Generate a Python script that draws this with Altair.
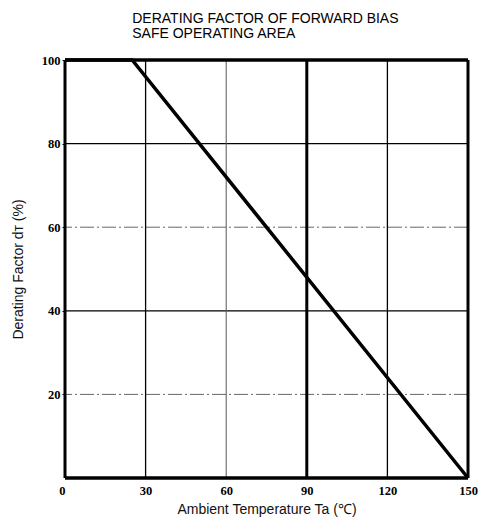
import altair as alt
import pandas as pd

# Data
temp = [0, 25, 150]
factor = [100, 100, 0]
x_ticks = [0, 30, 60, 90, 120, 150]
y_ticks = [20, 40, 60, 80, 100]
x_grid_thin = [30, 120]
x_grid_gray = [60]
x_grid_thick = [90]
y_grid_solid = [80, 40]
y_grid_dash = [60, 20]
x_frame = [0, 150]
y_frame = [0, 100]

curve = pd.DataFrame({"Ta": temp, "dT": factor})

xs = alt.Scale(domain=[0, 150], nice=False, zero=False)
ys = alt.Scale(domain=[0, 100], nice=False, zero=False)

lab_font = "Liberation Serif"

x_axis = alt.Axis(values=x_ticks, grid=False, domain=False, ticks=False,
                  labelFont=lab_font, labelFontWeight="bold", labelFontSize=12.5,
                  labelColor="black", labelPadding=6,
                  labelAlign={"expr": "datum.value == 0 ? 'right' : 'center'"},
                  title="Ambient Temperature  Ta (℃)", titleFont="Liberation Sans",
                  titleFontWeight="normal", titleFontSize=14, titleColor="#111",
                  titlePadding=6)
y_axis = alt.Axis(values=y_ticks, grid=False, domain=False, ticks=True, tickSize=3,
                  tickColor="black", labelFont=lab_font, labelFontWeight="bold",
                  labelFontSize=12.5, labelColor="black", labelPadding=2,
                  title="Derating Factor  dт (%)", titleFont="Liberation Sans",
                  titleFontWeight="normal", titleFontSize=14, titleColor="#111",
                  titlePadding=16)

def vrule(vals, width, color, dash=None):
    kw = dict(stroke=color, strokeWidth=width)
    if dash:
        kw["strokeDash"] = dash
    return alt.Chart(pd.DataFrame({"v": vals})).mark_rule(**kw).encode(
        x=alt.X("v:Q", scale=xs))

def hrule(vals, width, color, dash=None):
    kw = dict(stroke=color, strokeWidth=width)
    if dash:
        kw["strokeDash"] = dash
    return alt.Chart(pd.DataFrame({"v": vals})).mark_rule(**kw).encode(
        y=alt.Y("v:Q", scale=ys))

grid = alt.layer(
    hrule(y_grid_dash, 1, "#666", [14, 3, 2, 3]),
    hrule(y_grid_solid, 1.3, "black"),
    vrule(x_grid_gray, 1, "#555"),
    vrule(x_grid_thin, 1.3, "black"),
    vrule(x_grid_thick, 3, "black"),
    vrule(x_frame, 3, "black"),
    hrule(y_frame, 3.5, "black"),
)

line = alt.Chart(curve).mark_line(color="black", strokeWidth=3.5).encode(
    x=alt.X("Ta:Q", scale=xs, axis=x_axis),
    y=alt.Y("dT:Q", scale=ys, axis=y_axis),
)

chart = alt.layer(grid, line).properties(
    width=403, height=418,
    padding={"left": 57, "top": 52, "right": 11, "bottom": 45},
    autosize=alt.AutoSizeParams(type="none"),
    title=alt.TitleParams(
        ["DERATING FACTOR OF FORWARD BIAS", "SAFE OPERATING AREA"],
        anchor="start", align="left", dx=121, offset=12,
        font="Liberation Sans", fontSize=14,
        fontWeight="normal", color="black", lineHeight=15,
    ),
).configure_view(stroke=None).configure(background="white")

chart.save("out.html", embed_options={"renderer": "svg", "actions": False})
